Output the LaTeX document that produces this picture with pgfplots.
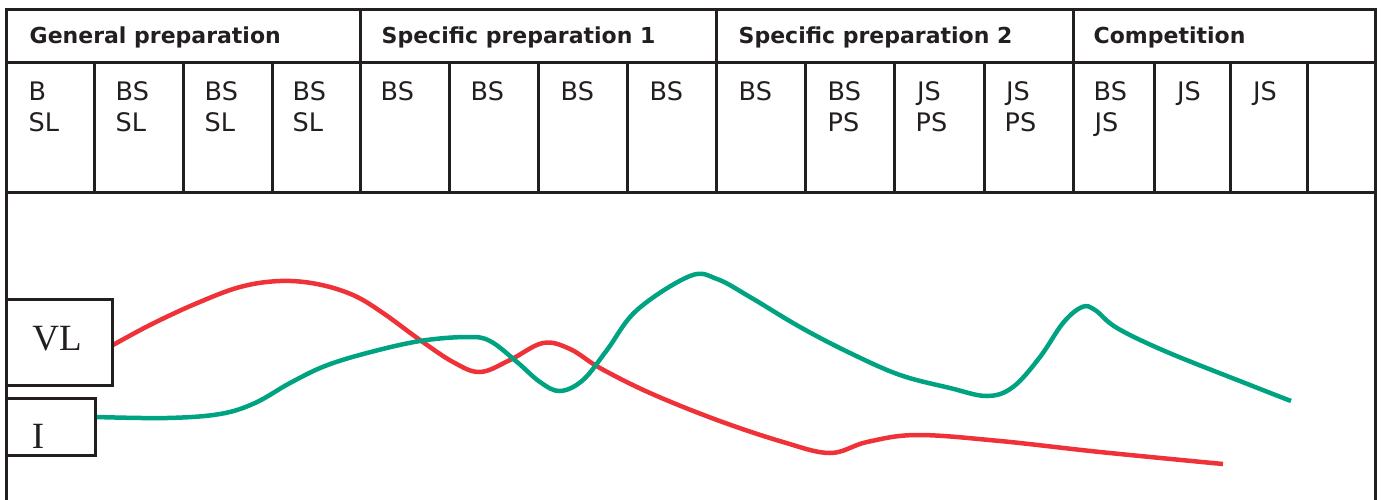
\documentclass[border=0pt]{standalone}
\usepackage{pgfplots}
\pgfplotsset{compat=1.18}
\usepackage{fontspec}
\setmainfont{DejaVu Sans}
\newfontfamily\tnr{Liberation Serif}
\definecolor{vlred}{RGB}{238,50,56}
\definecolor{igreen}{RGB}{0,163,129}
\definecolor{ink}{RGB}{35,31,32}
\begin{document}
\begin{tikzpicture}
\begin{axis}[
  scale only axis, width=1381pt, height=499pt,
  xmin=0, xmax=1381, ymin=0, ymax=499, y dir=reverse,
  axis lines=none, ticks=none, clip=true,
]
\path (axis cs:0,0) rectangle (axis cs:1381,499);
% table frame
\draw[ink, line width=3pt] (axis cs:6,520) -- (axis cs:6,9) -- (axis cs:1375,9) -- (axis cs:1375,520);
\draw[ink, line width=3pt] (axis cs:6,62) -- (axis cs:1375,62);
\draw[ink, line width=3pt] (axis cs:6,192) -- (axis cs:1375,192);
\pgfplotsinvokeforeach{360,716,1073}{\draw[ink, line width=3pt] (axis cs:#1,9) -- (axis cs:#1,192);}
\pgfplotsinvokeforeach{94,183,272,449,538,627,805,894,984,1154,1230,1307}{\draw[ink, line width=3pt] (axis cs:#1,62) -- (axis cs:#1,192);}
% phase headers
\begin{scope}[every node/.style={anchor=base west, inner sep=0pt, text=ink, font=\fontsize{22}{26}\selectfont\bfseries}]
\node at (axis cs:29.5,43) {General preparation};
\node at (axis cs:381.5,43) {Specific preparation 1};
\node at (axis cs:738.5,43) {Specific preparation 2};
\node at (axis cs:1093.5,43) {Competition};
\end{scope}
% column contents
\begin{scope}[every node/.style={anchor=base west, inner sep=0pt, text=ink, font=\fontsize{25.5}{30}\selectfont}]
\node at (axis cs:28.5,100) {B};   \node at (axis cs:28.5,131) {SL};
\node at (axis cs:115.5,100) {BS}; \node at (axis cs:115.5,131) {SL};
\node at (axis cs:204.5,100) {BS}; \node at (axis cs:204.5,131) {SL};
\node at (axis cs:292.5,100) {BS}; \node at (axis cs:292.5,131) {SL};
\node at (axis cs:380.5,100) {BS};
\node at (axis cs:470.5,100) {BS};
\node at (axis cs:560.5,100) {BS};
\node at (axis cs:649.5,100) {BS};
\node at (axis cs:738.5,100) {BS};
\node at (axis cs:827.5,100) {BS}; \node at (axis cs:827.5,131) {PS};
\node at (axis cs:917,100) {JS};   \node at (axis cs:915.5,131) {PS};
\node at (axis cs:1006,100) {JS};  \node at (axis cs:1004.5,131) {PS};
\node at (axis cs:1093.5,100) {BS}; \node at (axis cs:1094.5,131) {JS};
\node at (axis cs:1177,100) {JS};
\node at (axis cs:1253,100) {JS};
\end{scope}
% curves
\addplot[vlred, line width=4.5pt, smooth, tension=0.6] coordinates {
 (113,345) (150,325) (195,304) (240,287) (280,281) (317,284) (353,295) (383,313)
 (420,340) (453,362) (480,372) (510,360) (543,343) (570,349) (600,368) (650,393)
 (717,420) (783,442) (830,453) (867,442) (917,435) (1000,441) (1100,452) (1223,464)
};
\addplot[igreen, line width=4.5pt, smooth, tension=0.6] coordinates {
 (96,417) (167,418) (220,414) (255,403) (290,383) (325,366) (367,353) (420,341)
 (467,337) (490,341) (517,362) (540,382) (560,391) (583,380) (607,350) (637,310)
 (690,276) (717,279) (750,297) (800,327) (850,353) (900,375) (950,388) (987,396)
 (1013,387) (1040,357) (1063,323) (1082,307) (1095,310) (1117,328) (1167,352) (1250,385) (1291,401)
};
% label boxes
\draw[ink, line width=3pt, fill=white] (axis cs:6,299) rectangle (axis cs:112,385);
\draw[ink, line width=3pt, fill=white] (axis cs:6,398) rectangle (axis cs:95,455);
\node[anchor=base, inner sep=0pt, text=ink, font=\tnr\fontsize{37}{40}\selectfont] at (axis cs:57,350) {VL};
\node[anchor=base, inner sep=0pt, text=ink, font=\tnr\fontsize{37}{40}\selectfont] at (axis cs:38,448) {I};
\end{axis}
\end{tikzpicture}
\end{document}
